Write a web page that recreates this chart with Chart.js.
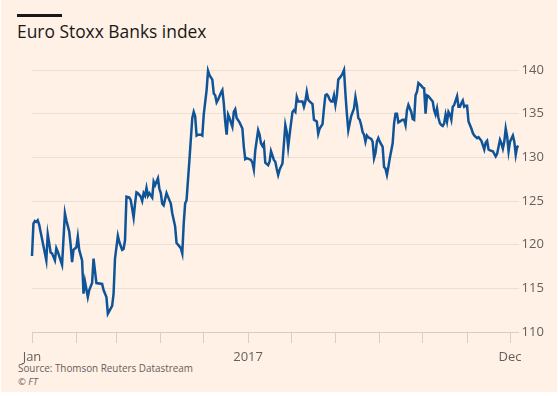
<!DOCTYPE html>
<html>
<head>
<meta charset="utf-8">
<script src="https://cdn.jsdelivr.net/npm/chart.js@4"></script>
<style>
  html, body { margin: 0; padding: 0; background: #ffffff; }
  #frame { position: absolute; left: 1px; top: 0px; width: 556px; height: 392px; background: #fff1e5; }
  #bar { position: absolute; left: 17px; top: 14px; width: 45px; height: 3px; background: #1a1817; }
  #title { position: absolute; left: 17px; top: 19px; font-family: "Open Sans", sans-serif; font-size: 17.4px; color: #1a1817; white-space: nowrap; }
  #source { position: absolute; left: 18px; top: 361px; font-family: "Open Sans", sans-serif; font-size: 9.9px; color: #66605c; white-space: nowrap; }
  #ft { position: absolute; left: 18px; top: 375px; font-family: "Open Sans", sans-serif; font-size: 9.5px; font-style: italic; color: #66605c; white-space: nowrap; }
  #c { position: absolute; left: 0; top: 0; }
</style>
</head>
<body>
<div id="frame"></div>
<div id="bar"></div>
<div id="title">Euro Stoxx Banks index</div>
<div id="source">Source: Thomson Reuters Datastream</div>
<div id="ft">© FT</div>
<canvas id="c" width="558" height="396"></canvas>
<script>
// Day of year 2017 (0 = 1 Jan) for each observation
const days = [0,1,2,3,4,5,10,11,12,13,14,16,17,18,21,23,24,26,27,28,29,31,32,33,35,36,37,39,40,42,43,45,49,50,52,53,54,56,57,58,60,61,63,64,65,66,68,69,71,72,73,74,76,77,78,79,80,81,82,84,85,86,88,89,90,91,92,94,95,97,98,100,101,102,104,105,106,107,108,110,112,113,114,115,116,118,119,120,122,123,124,126,127,128,129,130,132,133,134,135,136,137,138,140,141,142,143,145,147,148,149,150,153,154,155,156,158,159,160,161,162,163,165,166,167,169,170,171,172,173,175,177,178,179,180,182,183,184,185,186,187,189,190,191,192,193,194,196,197,198,199,200,201,203,204,205,206,207,208,209,210,211,212,213,214,216,217,218,219,220,221,222,223,225,226,227,228,229,230,231,232,233,234,235,237,238,239,240,241,242,243,245,246,247,248,249,250,252,253,254,255,256,258,259,260,261,262,263,265,266,267,268,269,270,272,273,274,275,276,277,278,279,280,281,282,283,284,285,286,287,288,289,290,291,292,293,294,295,297,298,299,300,301,302,303,304,305,307,308,309,311,312,314,315,316,317,318,319,320,322,324,325,326,327,328,329,330,331,332,333,334,336,337,338,339,340];

// Euro Stoxx Banks index level
const values = [118.7,122.4,122.7,122.6,122.8,122.3,118.2,121.2,120.2,119.1,119.0,118.2,119.6,119.2,117.7,123.6,122.8,121.5,120.0,118.0,119.4,119.7,120.9,119.4,118.2,114.4,115.8,114.0,114.8,115.6,118.4,115.6,115.5,114.8,114.0,112.1,112.4,113.0,114.4,118.4,121.0,120.3,119.4,119.5,120.5,125.5,125.4,125.1,123.1,124.7,126.0,125.9,125.5,125.0,125.9,125.6,126.5,125.6,125.9,125.4,127.2,126.8,127.6,126.4,125.9,124.7,124.5,125.9,125.5,124.7,123.6,122.1,120.2,120.0,119.6,119.0,122.4,124.7,125.1,129.7,134.5,135.2,134.7,132.5,132.6,132.6,132.5,134.9,137.7,139.9,139.4,138.9,137.3,137.1,136.3,136.6,137.4,137.7,136.2,134.1,132.6,134.9,134.5,133.5,135.2,135.5,134.5,134.0,133.3,131.2,129.8,129.9,129.7,129.4,128.6,130.8,133.1,132.6,131.6,131.3,131.6,129.4,129.1,129.5,130.7,129.7,129.5,128.7,128.0,128.6,129.3,133.7,132.9,131.2,132.6,135.2,135.4,135.2,136.9,136.4,136.4,136.4,135.8,136.4,137.5,136.6,136.4,136.1,134.3,134.2,134.1,132.7,133.3,133.8,135.6,137.1,137.2,137.0,136.6,136.4,136.4,137.1,136.0,137.0,138.9,139.3,139.6,140.0,137.3,135.0,133.1,133.9,134.7,135.6,136.9,136.0,134.5,134.3,133.7,132.9,132.6,131.8,132.5,132.3,132.1,131.8,129.9,130.5,131.8,132.2,131.8,131.2,128.9,128.7,128.0,128.9,129.9,131.6,133.9,135.0,135.0,134.0,134.2,134.3,134.3,133.7,135.4,136.0,135.2,134.4,134.3,137.1,137.5,138.5,138.2,138.0,137.9,135.0,137.1,137.0,136.8,136.6,136.4,135.4,134.9,135.6,134.5,133.9,133.7,133.6,133.9,134.9,134.1,135.2,134.9,134.3,135.8,136.0,137.0,135.8,135.8,136.2,136.5,135.8,135.9,135.9,134.1,133.3,132.8,132.5,132.2,132.3,131.9,131.4,130.9,131.7,131.9,130.9,130.8,130.7,130.1,130.4,131.2,132.0,131.6,131.0,131.8,133.3,132.4,130.7,131.8,132.5,131.8,130.3,131.2,131.3];

// x-axis tick positions (first day of each month) and labels
const monthStarts = [0,31,59,90,120,151,181,212,243,273,304,334];
const monthLabels = ["Jan","","","","","2017","","","","","","Dec"];

// y-axis ticks
const yTicks = [110,115,120,125,130,135,140];

const points = days.map((d, i) => ({ x: d, y: values[i] }));

new Chart(document.getElementById('c'), {
  type: 'line',
  data: {
    datasets: [{
      data: points,
      borderColor: '#0f5499',
      borderWidth: 2.5,
      pointRadius: 0,
      tension: 0,
      fill: false,
      clip: false
    }]
  },
  options: {
    responsive: false,
    animation: false,
    events: [],
    layout: { padding: { left: 32, top: 70, right: 0, bottom: 0 } },
    plugins: { legend: { display: false }, tooltip: { enabled: false } },
    scales: {
      x: {
        type: 'linear',
        min: 0,
        max: 340,
        afterBuildTicks: (axis) => { axis.ticks = monthStarts.map(v => ({ value: v })); },
        afterFit: (scale) => { scale.height = 64; },
        ticks: {
          autoSkip: false,
          maxRotation: 0,
          padding: 6,
          color: '#66605c',
          font: { family: 'Open Sans', size: 13 },
          callback: (v) => { const i = monthStarts.indexOf(v); return i >= 0 ? monthLabels[i] : ''; }
        },
        grid: { display: true, drawOnChartArea: false, drawTicks: true, tickLength: 11, color: '#d9cec4', lineWidth: 1 },
        border: { display: true, color: '#d9cec4', width: 1 }
      },
      y: {
        position: 'right',
        min: 110,
        max: 140,
        afterBuildTicks: (axis) => { axis.ticks = yTicks.map(v => ({ value: v })); },
        afterFit: (scale) => { scale.width = 39.4; },
        ticks: {
          padding: 3,
          color: '#66605c',
          font: { family: 'Open Sans', size: 13 }
        },
        grid: { drawTicks: false, color: '#ebdfd4', lineWidth: 1 },
        border: { display: false }
      }
    }
  }
});
</script>
</body>
</html>
